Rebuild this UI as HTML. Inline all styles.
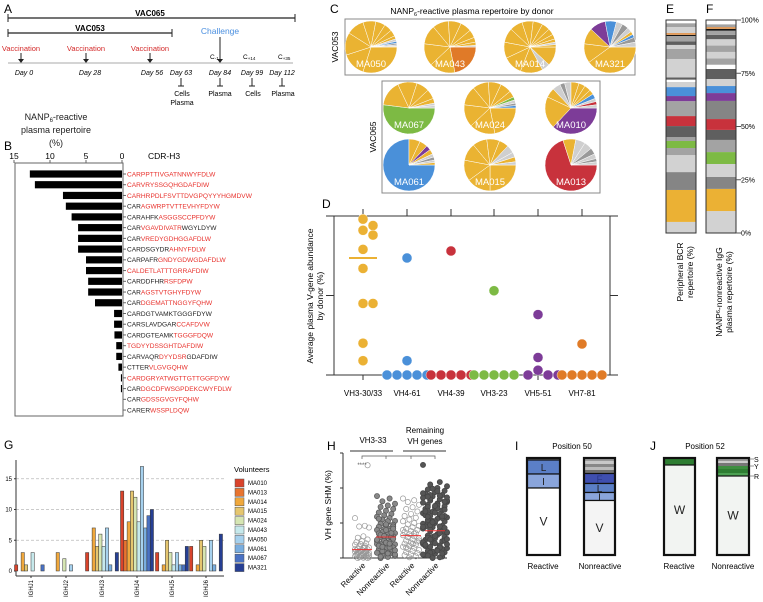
<!DOCTYPE html>
<html><head><meta charset="utf-8"><style>
html,body{margin:0;padding:0;background:#fff}
svg{display:block;font-family:"Liberation Sans",Arial,sans-serif}
</style></head><body>
<svg id="fig" width="763" height="602" viewBox="0 0 763 602" xmlns="http://www.w3.org/2000/svg">
<!-- Panel A timeline -->
<g font-size="7.5">
<text x="4" y="13" font-size="12">A</text>
<line x1="8" y1="18" x2="295" y2="18" stroke="#222" stroke-width="1.2"/><line x1="8" y1="14" x2="8" y2="22" stroke="#222"/><line x1="295" y1="14" x2="295" y2="22" stroke="#222"/>
<text x="150" y="16" text-anchor="middle" font-weight="bold" font-size="8">VAC065</text>
<line x1="8" y1="33" x2="172" y2="33" stroke="#222" stroke-width="1.2"/><line x1="8" y1="29" x2="8" y2="37" stroke="#222"/><line x1="172" y1="29" x2="172" y2="37" stroke="#222"/>
<text x="90" y="31" text-anchor="middle" font-weight="bold" font-size="8">VAC053</text>
<line x1="8" y1="63" x2="293" y2="63" stroke="#aaa" stroke-width="1"/>
<g fill="#d42a2a" text-anchor="middle"><text x="21" y="51">Vaccination</text><text x="86" y="51">Vaccination</text><text x="150" y="51">Vaccination</text></g>
<g stroke="#222"><line x1="21" y1="53" x2="21" y2="60"/><line x1="86" y1="53" x2="86" y2="60"/><line x1="150" y1="53" x2="150" y2="60"/><line x1="220" y1="37" x2="220" y2="60"/></g>
<g fill="#222"><path d="M18,59 L24,59 L21,63Z"/><path d="M83,59 L89,59 L86,63Z"/><path d="M147,59 L153,59 L150,63Z"/><path d="M217,59 L223,59 L220,63Z"/></g>
<text x="220" y="34" text-anchor="middle" fill="#4a8fe0" font-size="8.5">Challenge</text>
<text x="210" y="59" font-size="6.5">C<tspan font-size="4.5" dy="1">-1</tspan></text>
<text x="243" y="59" font-size="6.5">C<tspan font-size="4.5" dy="1">+14</tspan></text>
<text x="278" y="59" font-size="6.5">C<tspan font-size="4.5" dy="1">+35</tspan></text>
<g font-style="italic" text-anchor="middle" font-size="7"><text x="24" y="75">Day 0</text><text x="90" y="75">Day 28</text><text x="152" y="75">Day 56</text><text x="181" y="75">Day 63</text><text x="220" y="75">Day 84</text><text x="252" y="75">Day 99</text><text x="282" y="75">Day 112</text></g>
<g stroke="#222"><line x1="181" y1="78" x2="181" y2="86"/><line x1="178" y1="86" x2="184" y2="86"/><line x1="220" y1="78" x2="220" y2="86"/><line x1="217" y1="86" x2="223" y2="86"/><line x1="252" y1="78" x2="252" y2="86"/><line x1="249" y1="86" x2="255" y2="86"/><line x1="282" y1="78" x2="282" y2="86"/><line x1="279" y1="86" x2="285" y2="86"/></g>
<g text-anchor="middle" font-size="7"><text x="182" y="96">Cells</text><text x="182" y="105">Plasma</text><text x="220" y="96">Plasma</text><text x="253" y="96">Cells</text><text x="283" y="96">Plasma</text></g>
</g>
<!-- Panel B -->
<g>
<text x="4" y="150" font-size="12">B</text>
<g text-anchor="middle" font-size="9" fill="#222"><text x="56" y="120">NANP<tspan font-size="6" dy="2">6</tspan><tspan dy="-2">-reactive</tspan></text><text x="56" y="133">plasma repertoire</text><text x="56" y="146">(%)</text></g>
<text x="148" y="159" font-size="8.5">CDR-H3</text>
<g id="bAxis"></g><g id="bBars"></g><g id="bLabels" font-size="6.6"></g>
</g>
<!-- Panel C -->
<g>
<text x="330" y="13" font-size="12">C</text>
<text x="472" y="14" text-anchor="middle" font-size="8.5">NANP<tspan font-size="5.5" dy="2">6</tspan><tspan dy="-2">-reactive plasma repertoire by donor</tspan></text>
<rect x="345" y="19" width="290" height="56" fill="none" stroke="#888"/>
<rect x="382" y="81" width="218" height="112" fill="none" stroke="#888"/>
<text transform="translate(338,47) rotate(-90)" text-anchor="middle" font-size="8.5">VAC053</text>
<text transform="translate(376,137) rotate(-90)" text-anchor="middle" font-size="8.5">VAC065</text>
<g id="pies"></g>
</g>
<!-- Panel D -->
<g>
<text x="322" y="208" font-size="12">D</text>
<g id="dAxis" font-size="8"></g><g id="dPts"></g>
<g text-anchor="middle" font-size="8.5"><text transform="translate(313,296) rotate(-90)">Average plasma V-gene abundance</text><text transform="translate(323,296) rotate(-90)">by donor (%)</text></g>
</g>
<!-- Panels E F -->
<g>
<text x="666" y="13" font-size="12">E</text>
<text x="706" y="13" font-size="12">F</text>
<g id="stacks"></g>
<g text-anchor="middle" font-size="8.5"><text transform="translate(683,272) rotate(-90)">Peripheral BCR</text><text transform="translate(693,272) rotate(-90)">repertoire (%)</text>
<text transform="translate(722,292) rotate(-90)">NANP<tspan font-size="5.5" dy="-2">6</tspan><tspan dy="2">-nonreactive IgG</tspan></text><text transform="translate(732,292) rotate(-90)">plasma repertoire (%)</text></g>
</g>
<!-- Panel G -->
<g>
<text x="4" y="449" font-size="12">G</text>
<g id="gChart" font-size="6"></g>
</g>
<!-- Panel H -->
<g>
<text x="327" y="450" font-size="12">H</text>
<g id="hChart"></g>
</g>
<!-- Panel I -->
<g>
<text x="515" y="450" font-size="12">I</text>
<text x="572" y="449" text-anchor="middle" font-size="8">Position 50</text>
<g id="iChart"></g>
</g>
<g>
<text x="650" y="450" font-size="12">J</text>
<text x="705" y="449" text-anchor="middle" font-size="8">Position 52</text>
<g id="jChart"></g>
</g>
</svg>
<script>
const NS="http://www.w3.org/2000/svg";
function mk(parent,tag,attrs,txt){const e=document.createElementNS(NS,tag);for(const k in attrs)e.setAttribute(k,attrs[k]);if(txt!==undefined)e.textContent=txt;parent.appendChild(e);return e;}

/* ---------- Panel B data ---------- */
const bValues=[12.8,12.1,8.2,7.8,7.0,6.1,6.1,6.1,5.0,5.0,4.7,4.7,3.75,1.1,1.1,1.05,0.8,0.8,0.5,0.15,0.15,0,0];
const bSequences=[
[["CARPPTTIVGATNNWYFDLW",1]],[["CARVRYSSGQHGDAFDIW",1]],[["CARHRPDLFSVTTDVGPQYYYHGMDVW",1]],
[["CAR",0],["AGWRPTVTTEVHYFDYW",1]],[["CARAHFK",0],["ASGGSCCPFDYW",1]],[["CAR",0],["VGAVDIVATR",1],["WGYLDYW",0]],
[["CAR",0],["VREDYGDHGGAFDLW",1]],[["CARDSGYDR",0],["AHNYFDLW",1]],[["CARPAFR",0],["GNDYGDWGDAFDLW",1]],
[["CALDETLATTTGRRAFDIW",1]],[["CARDDFHR",0],["RSFDPW",1]],[["CAR",0],["AGSTVTGHYFDYW",1]],
[["CAR",0],["DGEMATTNGGYFQHW",1]],[["CARDGTVAMKTGGGFDYW",0]],[["CARSLAVDGAR",0],["CCAFDVW",1]],
[["CARDGTEAMK",0],["TGGGFDQW",1]],[["TGDYYDSSGHTDAFDIW",1]],[["CARVAQR",0],["DYYDSR",1],["GDAFDIW",0]],
[["CTTER",0],["VLGVGQHW",1]],[["CARDGRYATWGTTGTTGGFDYW",1]],[["CAR",0],["DGCDFWSGPDEKCWYFDLW",1]],
[["CAR",0],["GDSSGVGYFQHW",1]],[["CARER",0],["WSSPLDQW",1]]];
const bTicks=[15,10,5,0];
(function(){
 const x0=122,k=7.2,top=163,bottom=416,y0=174,step=10.73;
 const xs=v=>x0-v*k;
 const ax=document.getElementById('bAxis');
 mk(ax,'path',{d:`M15,${top} H123 V${bottom} H15 Z`,fill:'none',stroke:'#666','stroke-width':1});
 bTicks.forEach(t=>{mk(ax,'line',{x1:xs(t),x2:xs(t),y1:top-3,y2:top,stroke:'#666'});
  const tx=mk(ax,'text',{x:xs(t),y:top-4,'text-anchor':'middle','font-size':8.5},t);
  
  });
 const bars=document.getElementById('bBars'),lab=document.getElementById('bLabels');
 bValues.forEach((v,i)=>{const y=y0+i*step;
  const r=mk(bars,'rect',{x:xs(v),y:y-3.6,width:v*k,height:7.2,fill:'#000'});
  
  
  mk(bars,'line',{x1:123,x2:126,y1:y,y2:y,stroke:'#666'});
  const t=mk(lab,'text',{x:127,y:y+2.4});
  
  
  bSequences[i].forEach(s=>mk(t,'tspan',{fill:s[1]?'#e8312c':'#222'},s[0]));
 });
})();

/* ---------- Panel C pies ---------- */
const C={g:'#EAB332',o:'#E07A28',b:'#4A90D9',p:'#7D3C98',r:'#C8323C',gr:'#7DBA44',l:'#CFCFCF',m:'#999999',d:'#666666'};
const pieDonors=['MA050','MA043','MA014','MA321','MA067','MA024','MA010','MA061','MA015','MA013'];
const pieSlices=[
[[30,'g'],[15,'g'],[14,'g'],[11,'g'],[8,'g'],[6,'g'],[5,'g'],[4,'g'],[2,'g'],[1.5,'l'],[1.2,'b'],[1,'m'],[1,'l'],[0.3,'g']],
[[22,'o'],[16,'g'],[14,'g'],[12,'g'],[10,'g'],[8,'g'],[7,'g'],[5,'g'],[3,'g'],[2,'g'],[1,'l']],
[[12,'g'],[5,'l'],[14,'g'],[12,'g'],[10,'g'],[9,'g'],[8,'g'],[7,'g'],[6,'g'],[5,'g'],[4,'g'],[3,'g'],[2,'g'],[1.5,'l'],[1.5,'g']],
[[40,'g'],[12,'g'],[10,'g'],[10,'p'],[7,'b'],[4,'l'],[4,'m'],[3,'l'],[2,'g'],[2,'b'],[3,'m'],[3,'l']],
[[52,'gr'],[16,'g'],[12,'g'],[8,'g'],[6,'g'],[3,'g'],[1.5,'l'],[1.5,'l']],
[[22,'g'],[16,'g'],[14,'g'],[12,'g'],[10,'g'],[8,'g'],[7,'g'],[4,'g'],[2,'gr'],[2,'l'],[1.5,'m'],[1.5,'b']],
[[37,'p'],[20,'g'],[6,'g'],[5,'l'],[3,'m'],[4,'l'],[5,'g'],[4,'g'],[4,'g'],[3,'g'],[3,'b'],[2,'l'],[2,'r'],[2,'l']],
[[75,'b'],[7,'g'],[5,'g'],[3,'p'],[3,'g'],[2,'l'],[2,'m'],[1.5,'l'],[1.5,'g']],
[[25,'g'],[15,'g'],[13,'g'],[11,'g'],[9,'g'],[8,'g'],[6,'g'],[5,'l'],[3,'l'],[3,'g'],[2,'l']],
[[70,'r'],[8,'g'],[6,'l'],[5,'l'],[4,'m'],[3,'l'],[2,'m'],[2,'l']]];
const pieCenters=[[371,47],[450,47],[530,47],[610,47],[409,108],[490,108],[571,108],[409,165],[490,165],[571,165]];
(function(){
 const g=document.getElementById('pies'),R=26;
 pieDonors.forEach((name,di)=>{
  const [cx,cy]=pieCenters[di];const sl=pieSlices[di];const tot=sl.reduce((a,s)=>a+s[0],0);
  const pg=mk(g,'g',{});
  
  
  let a=0;
  sl.forEach(s=>{const a1=a+s[0]/tot*2*Math.PI;
   const x1=cx+R*Math.cos(a),y1=cy+R*Math.sin(a),x2=cx+R*Math.cos(a1),y2=cy+R*Math.sin(a1);
   const large=(a1-a)>Math.PI?1:0;
   const p=mk(pg,'path',{d:`M${cx},${cy} L${x1},${y1} A${R},${R} 0 ${large} 1 ${x2},${y2} Z`,fill:C[s[1]],stroke:'#fff','stroke-width':0.5});
   
   
   a=a1;});
  const t=mk(pg,'text',{x:cx,y:cy+20,'text-anchor':'middle',fill:'#fff','font-size':9.5},name);
  
  
 });
})();

/* ---------- Panel D ---------- */
const dCategories=['VH3-30/33','VH4-61','VH4-39','VH3-23','VH5-51','VH7-81'];
const dColors=['#EBB134','#4A90D9','#C8323C','#7DBA44','#7D3C98','#E07B27'];
const dValues=[
[98,94,91,88,79,67,45,45,20,9],
[73.6,9,0,0,0,0,0],
[78,0,0,0,0,0,0],
[53,0,0,0,0,0,0],
[38,11,3,0,0,0],
[19.5,0,0,0,0,0]];
const dMeans=[73.6];
(function(){
 const L=334,Rr=610,T=216,B=375,xs=[363,407,451,494,538,582];
 const ys=v=>B-v/100*(B-T);
 const ax=document.getElementById('dAxis');
 mk(ax,'line',{x1:L,x2:L,y1:T,y2:B,stroke:'#333'});
 mk(ax,'line',{x1:Rr,x2:Rr,y1:T,y2:B,stroke:'#333'});
 mk(ax,'line',{x1:L,x2:Rr,y1:B,y2:B,stroke:'#333'});
 mk(ax,'line',{x1:L-8,x2:Rr+8,y1:T,y2:T,stroke:'#333'});
 [0,50,100].forEach(v=>{mk(ax,'line',{x1:L-8,x2:L,y1:ys(v),y2:ys(v),stroke:'#333'});mk(ax,'line',{x1:Rr,x2:Rr+8,y1:ys(v),y2:ys(v),stroke:'#333'});});
 dCategories.forEach((c,i)=>{mk(ax,'line',{x1:xs[i],x2:xs[i],y1:T-7,y2:T,stroke:'#333'});mk(ax,'line',{x1:xs[i],x2:xs[i],y1:B,y2:B+5,stroke:'#333'});
  const t=mk(ax,'text',{x:xs[i],y:396,'text-anchor':'middle'},c);
  
  });
 const pg=document.getElementById('dPts');
 dValues.forEach((arr,ci)=>{
  const placed=[];
  arr.forEach(v=>{const y=ys(v);let off=0;const cand=[0,5,-5,10,-10,15,-15,20,-20];
   for(const o of cand){if(placed.every(p=>Math.hypot(p[0]-o,p[1]-y)>=8.5)){off=o;break;}}
   placed.push([off,y]);
   const c=mk(pg,'circle',{cx:xs[ci]+off,cy:y,r:5,fill:dColors[ci],stroke:'#fff','stroke-width':0.4});
   
   });
 });
 dMeans.forEach((m,i)=>{const l=mk(pg,'line',{x1:xs[i]-14,x2:xs[i]+14,y1:ys(m),y2:ys(m),stroke:dColors[i],'stroke-width':2});
  
  });
})();

/* ---------- Panels E/F stacks ---------- */
const SC={l:'#D2D2D2',m:'#A3A3A3',g:'#858585',d:'#5F5F5F',w:'#FFFFFF',k:'#111',o:'#E09a5a',gold:'#EBB134',gr:'#7DBA44',r:'#C8323C',p:'#7D3C98',b:'#4A90D9'};
const eSegments=[[5.2,'l'],[15,'gold'],[8.4,'g'],[8,'l'],[3.3,'m'],[3.3,'gr'],[1.8,'m'],[5.2,'d'],[4.7,'r'],[7,'m'],[2.4,'p'],[4.2,'b'],[2.4,'l'],[1.1,'w'],[1,'d'],[8.7,'l'],[4.7,'m'],[1.9,'l'],[1.7,'d'],[2.5,'m'],[0.5,'k'],[0.9,'o'],[2.8,'l'],[1.8,'m'],[1.5,'w']];
const fSegments=[[10.3,'l'],[10.4,'gold'],[5.6,'g'],[6.1,'l'],[5.6,'gr'],[5.7,'m'],[4.7,'d'],[5.1,'r'],[8.5,'g'],[3.7,'p'],[3.3,'b'],[3.3,'l'],[4.7,'d'],[2,'w'],[3,'m'],[3,'l'],[3,'m'],[3,'l'],[2,'d'],[2,'m'],[0.8,'k'],[0.9,'o'],[1.3,'m'],[2,'w']];
const efTicks=[0,25,50,75,100];
(function(){
 const g=document.getElementById('stacks'),T=20,B=233,H=B-T;
 const ys=p=>B-p/100*H;
 [[eSegments,666,'e'],[fSegments,706,'f']].forEach(([segs,x,n])=>{
  let acc=0;
  segs.forEach(s=>{const r=mk(g,'rect',{x:x,y:ys(acc+s[0]),width:30,height:s[0]/100*H,fill:SC[s[1]]});
   
   
   acc+=s[0];});
  mk(g,'rect',{x:x,y:T,width:30,height:H,fill:'none',stroke:'#333','stroke-width':1});
 });
 efTicks.forEach(t=>{mk(g,'line',{x1:736,x2:741,y1:ys(t),y2:ys(t),stroke:'#555'});
  const tx=mk(g,'text',{x:741,y:ys(t)+2.5,'font-size':7},t+'%');
  
  });
})();

/* ---------- Panel G ---------- */
const gGroups=['IGHJ1','IGHJ2','IGHJ3','IGHJ4','IGHJ5','IGHJ6'];
const gVolunteers=['MA010','MA013','MA014','MA015','MA024','MA043','MA050','MA061','MA067','MA321'];
const gColors=['#D9432B','#E8742F','#F0A83C','#E5C66F','#D6E6B3','#C6E9EC','#A6D1EE','#7AAEE0','#4A72C4','#263F94'];
const gValues=[ // rows = groups, columns = volunteers
[1,0,3,1,0,3,0,0,1,0],
[0,0,3,0,2,0,1,0,0,0],
[3,0,7,4,6,4,7,1,0,3],
[13,5,8,13,12,8,17,7,9,10],
[3,0,1,5,3,1,3,1,1,4],
[4,0,1,5,4,0,5,1,0,6]];
const gTicks=[0,5,10,15];
(function(){
 const g=document.getElementById('gChart'),L=16,Rr=224,y0=571,k=6.15,bot=576,bw=3.3;
 const ys=v=>y0-v*k;const gx=[31,66,102,137,172,206];
 gTicks.forEach(t=>{if(t>0)mk(g,'line',{x1:L,x2:Rr,y1:ys(t),y2:ys(t),stroke:'#bbb','stroke-dasharray':'3,2','stroke-width':0.7});
  mk(g,'line',{x1:L-2,x2:L,y1:ys(t),y2:ys(t),stroke:'#333'});
  const tx=mk(g,'text',{x:L-4,y:ys(t)+2,'text-anchor':'end'},t);
  
  });
 mk(g,'line',{x1:L,x2:L,y1:460,y2:bot,stroke:'#333'});
 mk(g,'line',{x1:L,x2:Rr,y1:bot,y2:bot,stroke:'#333'});
 gGroups.forEach((name,gi)=>{
  gValues[gi].forEach((v,vi)=>{if(v<=0)return;
   const r=mk(g,'rect',{x:gx[gi]-5*bw+vi*bw,y:ys(v),width:bw,height:v*k,fill:gColors[vi],stroke:'#333','stroke-width':0.5});
   
   });
  mk(g,'line',{x1:gx[gi],x2:gx[gi],y1:bot,y2:bot+2,stroke:'#333'});
  const t=mk(g,'text',{transform:`translate(${gx[gi]+2},580) rotate(-90)`,'text-anchor':'end'},name);
  
  
 });
 const lt=mk(g,'text',{x:234,y:472,'font-size':7.5},'Volunteers');
 
 
 gVolunteers.forEach((v,i)=>{const y=479+i*9.4;
  const r=mk(g,'rect',{x:235,y:y,width:9,height:8,fill:gColors[i],stroke:'#555','stroke-width':0.5});
  
  
  const t=mk(g,'text',{x:248,y:y+6},v);
  
  });
})();

/* ---------- Panel H ---------- */
const hCategories=['Reactive','Nonreactive','Reactive','Nonreactive'];
const hMedians=[2.4,6.0,6.4,7.8];
const hCol1=[11.4,9.2,9,8.7,6.2,5.8,5.3,4.8,4.5,4.2,4,3.8,3.5,3.3,3,2.8,2.6,2.5,2.3,2.2,2,1.9,1.8,1.6,1.5,1.4,1.2,1.1,1,0.9,0.8,0.7,0.6,0.5,0.4,0.3,0.2,0.1,0,0,0.5,1,1.5,2,2.5,3,0.3,0.8,1.3,1.7,26.5];
const hCol2=[17.7,17,16.2,15.5,15,14.6,14,13.5,13,12.6,12.2,11.8,11.4,11,10.6,10.2,9.8,9.5,9.2,8.9,8.6,8.3,8,7.7,7.4,7.1,6.8,6.5,6.2,6,5.7,5.4,5.1,4.8,4.5,4.2,3.9,3.6,3.3,3,2.7,2.4,2.1,1.8,1.5,1.2,0.9,0.6,0.3,0,9,8,7,6,5,4,3,2,1,10.5,6.6,5.5,4.4,3.5,7.2,6.3,5.2,4.1,3.2,2.2,1.3,0.4,8.4,9.6,11.2];
const hCol3=[17,16.5,16,15.2,14.5,14,13.3,12.6,12,11.5,11,10.5,10,9.6,9.2,8.8,8.4,8,7.7,7.4,7.1,6.8,6.5,6.2,5.9,5.6,5.3,5,4.7,4.4,4.1,3.8,3.5,3.2,2.9,2.6,2.3,2,1.7,1.4,1.1,0.8,0.5,0.2,8,7,6,5,4,3];
const hCol4=[26.6,21.7,21,20.5,20,19.6,19.2,18.8,18.4,18,17.6,17.2,16.8,16.4,16,15.6,15.2,14.8,14.4,14,13.6,13.2,12.8,12.4,12,11.6,11.2,10.8,10.4,10,9.6,9.2,8.8,8.4,8,7.6,7.2,6.8,6.4,6,5.6,5.2,4.8,4.4,4,3.6,3.2,2.8,2.4,2,1.6,1.2,0.8,0.4,0,18.5,17.8,17,16.2,15.4,14.6,13.8,13,12.2,11.4,10.6,9.8,9,8.2,7.4,6.6,5.8,5,4.2,3.4,2.6,1.8,1,0.2,18,16.5,15,13.5,12,10.5,9,7.5,6,4.5,3,1.5,17.3,14.2,11.8,8.6,6.3,3.8,1.3,19.8,15.8,12.6,9.4,5.4,19.1,17.5,16.1,14.9,13.3,11.9,10.2,8.9,7.1,5.3,3.9,2.1,0.7];
const hSeries=[hCol1,hCol2,hCol3,hCol4];
(function(){
 const g=document.getElementById('hChart'),L=343,T=453,B=558,xs=[362,386,411,435],spread=[7,9,8,12];
 const ys=v=>B-v/30*(B-T);
 mk(g,'line',{x1:L,x2:L,y1:T,y2:B,stroke:'#333'});
 mk(g,'line',{x1:L,x2:447,y1:B,y2:B,stroke:'#333'});
 [0,10,20,30].forEach(v=>mk(g,'line',{x1:L-3,x2:L,y1:ys(v),y2:ys(v),stroke:'#333'}));
 const yl=mk(g,'text',{transform:'translate(331,505) rotate(-90)','text-anchor':'middle','font-size':8.5},'VH gene SHM (%)');
 
 
 const fills=['none','#888','none','#555'],strokes=['#999','#555','#999','#444'];
 hSeries.forEach((arr,ci)=>{
  arr.forEach((v,i)=>{const off=(((i*7)%11)-5)/5*spread[ci];
   const c=mk(g,'circle',{cx:xs[ci]+off,cy:ys(v),r:2.6,fill:fills[ci],stroke:strokes[ci],'stroke-width':0.7});
   
   });
  const m=mk(g,'line',{x1:xs[ci]-10,x2:xs[ci]+10,y1:ys(hMedians[ci]),y2:ys(hMedians[ci]),stroke:'#e33','stroke-width':1});
  
  
  const t=mk(g,'text',{transform:`translate(${xs[ci]+4},566) rotate(-45)`,'text-anchor':'end','font-size':8},hCategories[ci]);
  
  
 });
 mk(g,'text',{x:373,y:443,'text-anchor':'middle','font-size':8},'VH3-33');
 mk(g,'text',{x:425,y:433,'text-anchor':'middle','font-size':8},'Remaining');
 mk(g,'text',{x:425,y:444,'text-anchor':'middle','font-size':8},'VH genes');
 mk(g,'line',{x1:350,x2:393,y1:451,y2:451,stroke:'#333'});
 mk(g,'line',{x1:403,x2:446,y1:451,y2:451,stroke:'#333'});
 mk(g,'path',{d:'M362,459 V456 H435 V459 M386,456 V459 M411,456 V459',fill:'none',stroke:'#555','stroke-width':0.7});
 mk(g,'text',{x:362,y:467,'text-anchor':'middle','font-size':6,fill:'#555'},'****');
})();

/* ---------- Panels I/J ---------- */
const iReactive=[[2,'#888'],[14,'#5B7FC7','L'],[14,'#8AA5DB','I'],[67,'#FFFFFF','V']];
const iNonreactive=[[3,'#9a9a9a'],[3,'#c8c8c8'],[3,'#888'],[3,'#bbb'],[3.5,'#6f6f6f'],[10,'#3F4FB0','F'],[9,'#5B7FC7','L'],[8,'#8AA5DB','I'],[54.5,'#F4F4F4','V']];
const jReactive=[[7,'#2E7D32'],[90,'#F2F4F2','W']];
const jNonreactive=[[3,'#999'],[2,'#ccc'],[3,'#777'],[3,'#3E8E41'],[4,'#2E7D32'],[3,'#4CA052'],[79,'#F2F4F2','W']];
(function(){
 const T=458,H=97;
 function stack(gid,segs,x,w,name){
  const g=document.getElementById(gid);let y=T;
  segs.forEach(s=>{const h=s[0]/97*H;
   const r=mk(g,'rect',{x:x,y:y,width:w,height:h,fill:s[1],stroke:s[2]?'#111':'none','stroke-width':s[2]?1.2:0});
   
   
   if(s[2]){const t=mk(g,'text',{x:x+w/2,y:y+h/2+4,'text-anchor':'middle','font-size':h>30?12:10,fill:s[1]==='#3F4FB0'?'#2b3a8a':'#222'},s[2]);
    
    }
   y+=h;});
  mk(g,'rect',{x:x,y:T,width:w,height:H,fill:'none',stroke:'#111','stroke-width':2.2});
 }
 stack('iChart',iReactive,527,33,'i-reactive');
 stack('iChart',iNonreactive,584,31,'i-nonreactive');
 stack('jChart',jReactive,664,31,'j-reactive');
 stack('jChart',jNonreactive,717,32,'j-nonreactive');
 const ig=document.getElementById('iChart'),jg=document.getElementById('jChart');
 mk(ig,'text',{x:543,y:569,'text-anchor':'middle','font-size':8},'Reactive');
 mk(ig,'text',{x:600,y:569,'text-anchor':'middle','font-size':8},'Nonreactive');
 mk(jg,'text',{x:679,y:569,'text-anchor':'middle','font-size':8},'Reactive');
 mk(jg,'text',{x:733,y:569,'text-anchor':'middle','font-size':8},'Nonreactive');
 [['S',461],['Y',468],['R',478]].forEach(([l,y])=>{mk(jg,'line',{x1:749,x2:754,y1:y-2,y2:y-2,stroke:'#555','stroke-width':0.6});mk(jg,'text',{x:754,y:y+1,'font-size':7},l);});
})();
</script>
</body></html>
